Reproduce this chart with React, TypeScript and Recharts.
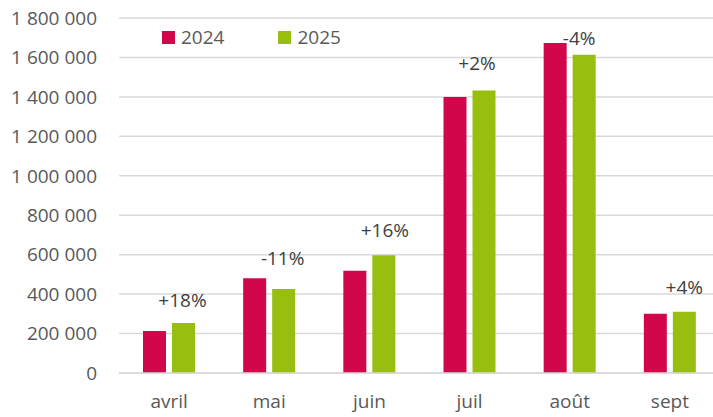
// @ts-nocheck
import { BarChart, Bar, XAxis, YAxis, CartesianGrid, LabelList } from 'recharts'

const months = ['avril', 'mai', 'juin', 'juil', 'août', 'sept']
const visits2024 = [213000, 481000, 518000, 1399000, 1673000, 300000]
const visits2025 = [254000, 426000, 597000, 1433000, 1614000, 310000]
const changes = ['+18%', '-11%', '+16%', '+2%', '-4%', '+4%']
const yTicks = [0, 200000, 400000, 600000, 800000, 1000000, 1200000, 1400000, 1600000, 1800000]

// hand-placed label offsets (like the moved Excel data labels)
const labelDx = [-1, -1, 1, -7, -5, 0]
const labelDy = [23, 31, 25, 27, 17, 25]

const RED = '#D2064B'
const GREEN = '#98BF0F'
const FONT = '"Open Sans", sans-serif'

const data = months.map((m, i) => ({
  month: m,
  y2024: visits2024[i],
  y2025: visits2025[i],
  change: changes[i],
}))

const fmt = (v) => String(v).replace(/\B(?=(\d{3})+(?!\d))/g, ' ')

function ChangeLabel(props) {
  const { x, y, width, index } = props
  return (
    <text
      x={x + width / 2 + labelDx[index]}
      y={y - labelDy[index]}
      textAnchor="middle"
      dominantBaseline="central"
      fontFamily={FONT}
      fontSize={19}
      fill="#404040"
    >
      {changes[index]}
    </text>
  )
}

function LegendBox() {
  const items = [
    { name: '2024', color: RED },
    { name: '2025', color: GREEN },
  ]
  return (
    <div style={{ position: 'absolute', top: 24, left: 162, display: 'flex', fontFamily: FONT, fontSize: 19, color: '#595959' }}>
      {items.map((it) => (
        <div key={it.name} style={{ display: 'flex', alignItems: 'center', marginRight: 54 }}>
          <span style={{ width: 13, height: 13, background: it.color, display: 'inline-block', marginRight: 6 }} />
          <span>{it.name}</span>
        </div>
      ))}
    </div>
  )
}

export default function App() {
  return (
    <div style={{ position: 'absolute', left: 0, top: 0, width: 713, height: 417, overflow: 'hidden', background: '#fff' }}>
      <BarChart
        width={720}
        height={417}
        data={data}
        margin={{ top: 18, right: 0, left: 0, bottom: 0 }}
        barCategoryGap={24}
        barGap={6}
      >
        <CartesianGrid vertical={false} stroke="#d9d9d9" strokeWidth={1.5} />
        <XAxis
          dataKey="month"
          height={44}
          axisLine={{ stroke: '#d9d9d9', strokeWidth: 1.5 }}
          tickLine={false}
          tickSize={0}
          tickMargin={22}
          tick={{ fontFamily: FONT, fontSize: 19, fill: '#595959' }}
        />
        <YAxis
          width={119}
          domain={[0, 1800000]}
          ticks={yTicks}
          tickFormatter={fmt}
          axisLine={false}
          tickLine={false}
          tickSize={0}
          tickMargin={22}
          tick={{ fontFamily: FONT, fontSize: 19, fill: '#595959' }}
        />
        <Bar dataKey="y2024" name="2024" fill={RED} isAnimationActive={false} />
        <Bar dataKey="y2025" name="2025" fill={GREEN} isAnimationActive={false}>
          <LabelList dataKey="change" content={<ChangeLabel />} />
        </Bar>
      </BarChart>
      <LegendBox />
    </div>
  )
}
